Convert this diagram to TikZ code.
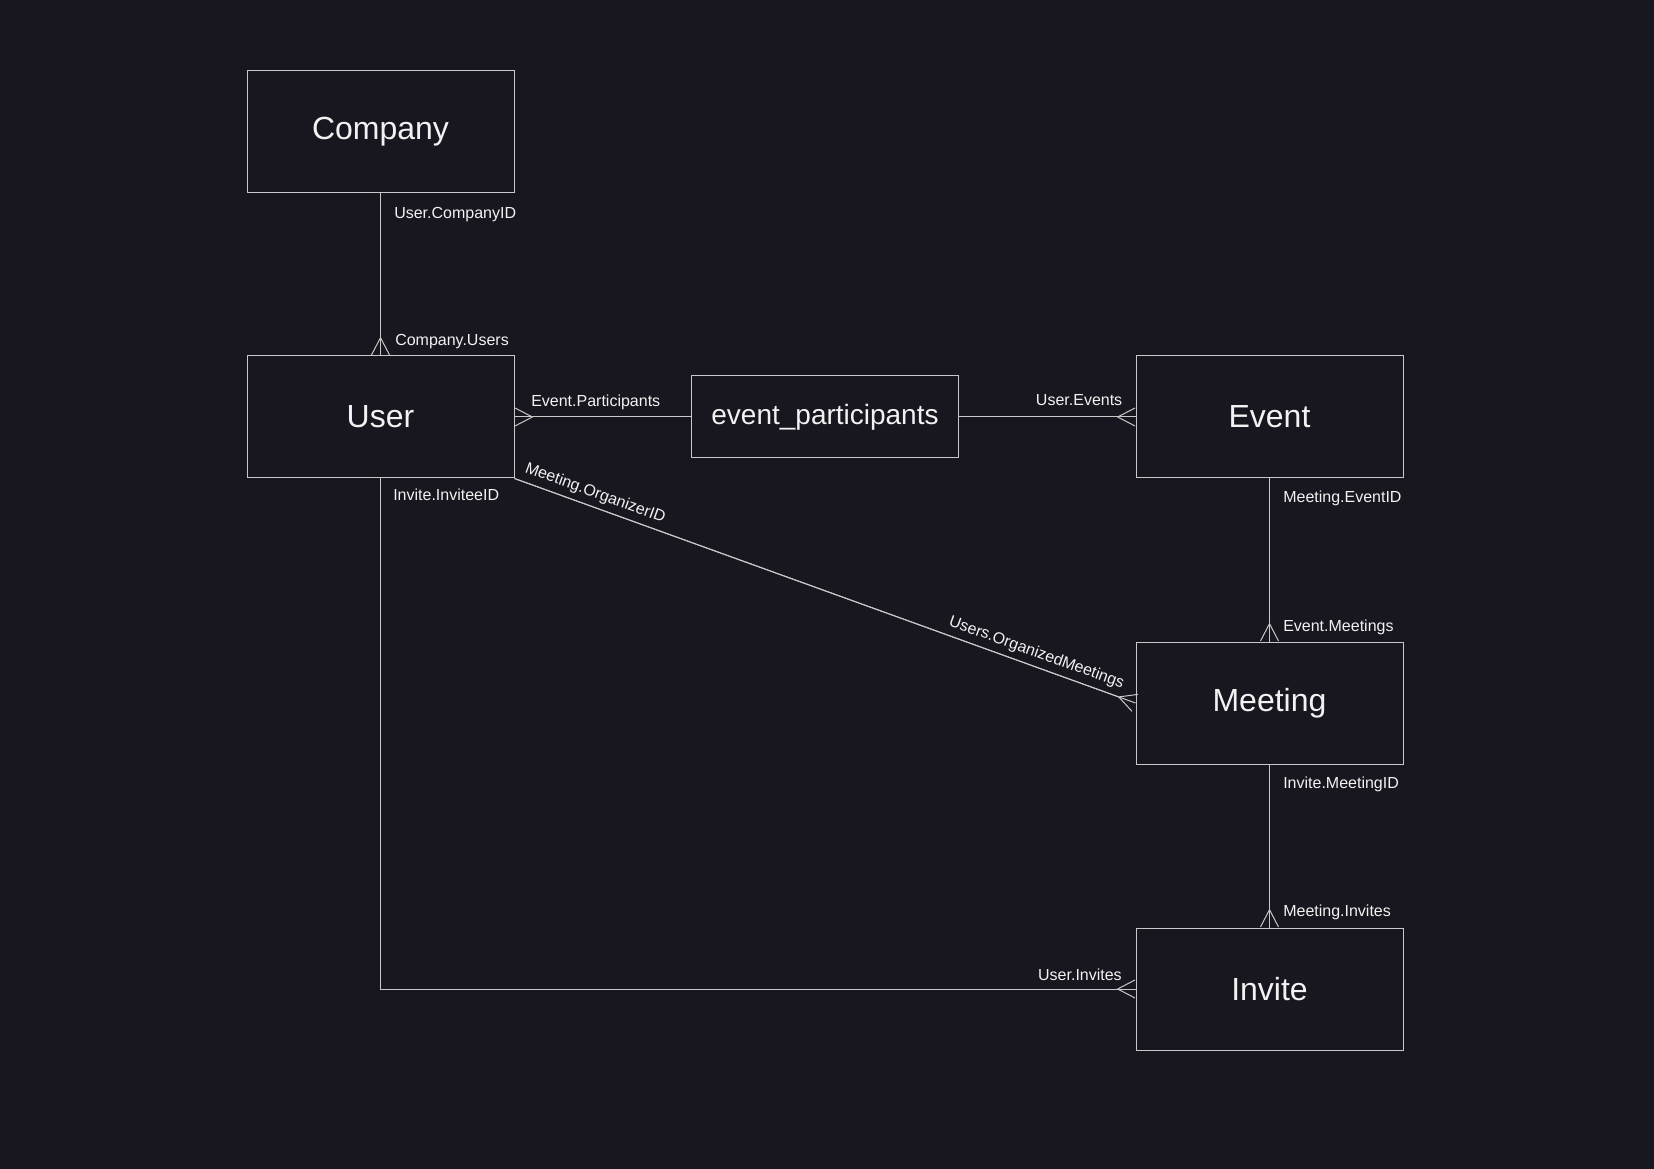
\documentclass[tikz,border=0pt]{standalone}
\usepackage{fontspec}
\setmainfont{Liberation Sans}
\usetikzlibrary{arrows.meta}

\definecolor{bgdark}{HTML}{18161E}
\definecolor{linegray}{HTML}{C8C8C8}
\definecolor{textwhite}{HTML}{F2F2F2}

\tikzset{
  table/.style={draw=linegray, line width=0.75pt, text=textwhite, minimum width=200.25pt,
    minimum height=91.5pt, inner sep=0pt, font=\fontsize{24}{28}\selectfont},
  jointable/.style={table, minimum height=61.5pt, font=\fontsize{21}{25}\selectfont},
  rel/.style={draw=linegray, line width=0.75pt},
  many/.style={postaction={draw=linegray, -{Straight Barb[reversed, length=13pt, width=13.5pt]}}},
  lbl/.style={text=textwhite, inner sep=0pt, font=\fontsize{12}{14}\selectfont},
}

\begin{document}
\begin{tikzpicture}[x=0.75pt, y=-0.75pt]

    % background
    \fill[bgdark] (0,0) rectangle (1654,1169);
    \useasboundingbox (0,0) rectangle (1654,1169);

    % tables
    \node[table] (company) at (380.5,132) {Company};
    \node[table] (user) at (380.5,417) {User};
    \node[jointable] (evpart) at (825,417) {event\_participants};
    \node[table] (event) at (1269.5,417) {Event};
    \node[table] (meeting) at (1269.5,703) {Meeting};
    \node[table] (invite) at (1269.5,989) {Invite};

    % relations
    \draw[rel, many] (company) -- (user);
    \draw[rel, many] (evpart) -- (user);
    \draw[rel, many] (evpart) -- (event);
    \draw[rel, many] (event) -- (meeting);
    \draw[rel, many] (meeting) -- (invite);
    \draw[rel, many] (user.south) |- (invite.west);
    \draw[rel, many] (user.south east) -- (meeting.west)
      node[lbl, sloped, pos=0.002, anchor=south west, inner sep=4pt] (lblorg) {Meeting.OrganizerID}
      node[lbl, sloped, pos=0.982, anchor=south east, inner sep=4pt] (lblorgm) {Users.OrganizedMeetings};

    % relation labels
    \node[lbl, anchor=base west] (lblcompid) at ([shift={(13.5,25)}]company.south) {User.CompanyID};
    \node[lbl, anchor=base west] (lblcompu) at ([shift={(14.5,-10)}]user.north) {Company.Users};
    \node[lbl, anchor=base west] (lblevpart) at ([shift={(16.5,-10.5)}]user.east) {Event.Participants};
    \node[lbl, anchor=base east] (lbluserev) at ([shift={(-13,-11)}]event.west) {User.Events};
    \node[lbl, anchor=base west] (lblinvitee) at ([shift={(12.5,22.5)}]user.south) {Invite.InviteeID};
    \node[lbl, anchor=base west] (lblevid) at ([shift={(13.5,24)}]event.south) {Meeting.EventID};
    \node[lbl, anchor=base west] (lblevmeet) at ([shift={(13.5,-10.5)}]meeting.north) {Event.Meetings};
    \node[lbl, anchor=base west] (lblmeetid) at ([shift={(13.5,24)}]meeting.south) {Invite.MeetingID};
    \node[lbl, anchor=base west] (lblmeetinv) at ([shift={(13.5,-11)}]invite.north) {Meeting.Invites};
    \node[lbl, anchor=base east] (lbluserinv) at ([shift={(-13.5,-9)}]invite.west) {User.Invites};

\end{tikzpicture}
\end{document}
